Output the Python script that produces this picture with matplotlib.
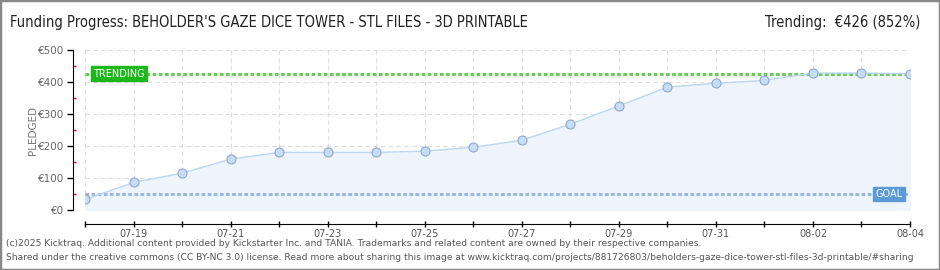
import matplotlib.pyplot as plt
import matplotlib.dates as mdates
import numpy as np
import pandas as pd

dates = pd.date_range('2025-07-18', '2025-08-04', freq='D')
pledged = [33, 86, 115, 159, 180, 180, 180, 184, 196, 218, 268, 325, 384, 396, 405, 428, 428, 426]
goal = 50
trending = 426
title = "Funding Progress: BEHOLDER'S GAZE DICE TOWER - STL FILES - 3D PRINTABLE"
trend_text = "Trending:  €426 (852%)"
footer1 = "(c)2025 Kicktraq. Additional content provided by Kickstarter Inc. and TANIA. Trademarks and related content are owned by their respective companies."
footer2 = ("Shared under the creative commons (CC BY-NC 3.0) license. Read more about sharing this image at "
           "www.kicktraq.com/projects/881726803/beholders-gaze-dice-tower-stl-files-3d-printable/#sharing")

W, H = 940, 270
fig = plt.figure(figsize=(W / 100, H / 100), dpi=100)
ax = fig.add_axes([85 / W, (H - 210) / H, 825 / W, 160 / H])

x = mdates.date2num(dates)
ax.fill_between(x, pledged, 0, color='#eef4fc', zorder=1)
ax.plot(x, pledged, color='#bcd6f2', lw=1, zorder=3)
ax.scatter(x, pledged, s=42, color='#c6ddf7', edgecolors='#8fa8c8', linewidths=0.8, zorder=4)

ax.axhline(trending, color='#66cc55', lw=2.2, ls=(0, (1.2, 0.8)), zorder=2)
ax.axhline(goal, color='#9ab8de', lw=2.2, ls=(0, (1.2, 0.8)), zorder=2)

ax.set_xlim(x[0], x[-1])
ax.set_ylim(0, 500)

ax.set_yticks(np.arange(0, 501, 100))
ax.set_yticklabels(['€%d' % v for v in range(0, 501, 100)])
ax.set_yticks(np.arange(50, 500, 100), minor=True)
ax.set_xticks(x)
ax.set_xticklabels([d.strftime('%m-%d') if i % 2 == 1 else '' for i, d in enumerate(dates)])

ax.grid(True, which='major', color='#dddddd', ls=(0, (4, 3)), lw=0.8)
ax.set_axisbelow(True)

for s in ['top', 'right']:
    ax.spines[s].set_visible(False)
ax.spines['left'].set_position(('outward', 9))
ax.spines['bottom'].set_position(('outward', 10))
ax.spines['left'].set_bounds(0, 500)

ax.tick_params(axis='y', which='major', length=4, width=1, labelsize=7.5, labelcolor='#666666', pad=2)
ax.tick_params(axis='y', which='minor', length=2.5, width=1, color='red', direction='in')
ax.tick_params(axis='x', which='major', length=5, width=1, direction='inout', labelsize=7,
               labelcolor='#555555', pad=1)

fig.text(33 / W, (H - 130) / H, 'PLEDGED', rotation=90, ha='center', va='center',
         fontsize=7.5, color='#777777')

ax.text(x[0] + 0.17, trending, 'TRENDING', color='white', fontsize=7, va='center', ha='left',
        zorder=6, bbox=dict(boxstyle='square,pad=0.25', fc='#1cb81c', ec='#1cb81c'))
ax.text(x[-1] - 0.15, goal, 'GOAL', color='white', fontsize=7, va='center', ha='right',
        zorder=6, bbox=dict(boxstyle='square,pad=0.25', fc='#5b9ad8', ec='#5b9ad8'))

fig.text(10 / W, (H - 22) / H, title, fontsize=10.5, color='#222222', va='center', ha='left',
         fontstretch='condensed')
fig.text(920 / W, (H - 22) / H, trend_text, fontsize=10.5, color='#222222', va='center', ha='right',
         fontstretch='condensed')
fig.text(6 / W, (H - 243) / H, footer1, fontsize=6.6, color='#555555', va='center', ha='left')
fig.text(6 / W, (H - 257) / H, footer2, fontsize=6.6, color='#555555', va='center', ha='left')

fig.patches.append(plt.Rectangle((0, 0), 1, 1, transform=fig.transFigure, fill=False,
                                 ec='#888888', lw=2.5))

fig.savefig('out.png', dpi=100)
